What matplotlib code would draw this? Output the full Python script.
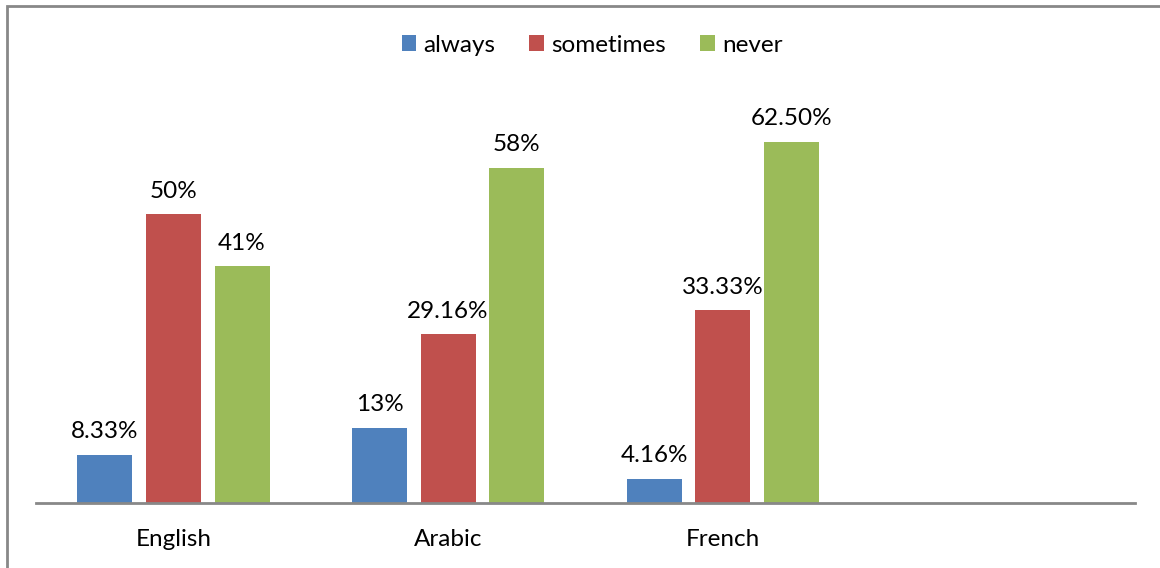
import matplotlib.pyplot as plt
from matplotlib.patches import Rectangle
import numpy as np

languages = ['English', 'Arabic', 'French', '']
always = [8.33, 13, 4.16]
sometimes = [50, 29.16, 33.33]
never = [41, 58, 62.5]
always_labels = ['8.33%', '13%', '4.16%']
sometimes_labels = ['50%', '29.16%', '33.33%']
never_labels = ['41%', '58%', '62.50%']

plt.rcParams['font.family'] = ['Lato', 'DejaVu Sans']
fs = 17.5

fig = plt.figure(figsize=(11.6, 5.68), dpi=100)
ax = fig.add_axes([36/1160, 1 - 503/568, 1099/1160, 404.6/568])

x = np.arange(len(always))
w = 0.2
series = [
    (always, always_labels, '#4F81BD', 'always', -0.25),
    (sometimes, sometimes_labels, '#C0504D', 'sometimes', 0.0),
    (never, never_labels, '#9BBB59', 'never', 0.25),
]
for vals, labs, col, name, off in series:
    bars = ax.bar(x + off, vals, w, color=col, label=name)
    for b, lab in zip(bars, labs):
        ax.annotate(lab, (b.get_x() + b.get_width()/2, b.get_height()),
                    xytext=(0, 9), textcoords='offset points',
                    ha='center', va='bottom', fontsize=fs)

ax.set_xlim(-0.5, 3.5)
ax.set_ylim(0, 70)
ax.set_xticks(np.arange(len(languages)))
ax.set_xticklabels(languages, fontsize=fs)
ax.tick_params(axis='x', length=0, pad=19)
ax.set_yticks([])
for s in ['top', 'right', 'left']:
    ax.spines[s].set_visible(False)
ax.spines['bottom'].set_color('#888888')
ax.spines['bottom'].set_linewidth(2)

fig.legend(loc='center', bbox_to_anchor=(592/1160, 1 - 45/568), ncol=3,
           frameon=False, fontsize=fs, handlelength=0.6, handleheight=0.6,
           handletextpad=0.3, columnspacing=1.4)

# chart border
fig.patches.append(Rectangle((7/1160, -0.1), 1.2, 1 - 6/568 + 0.1,
                             transform=fig.transFigure, fill=False,
                             edgecolor='#888888', linewidth=2))

fig.savefig('out.png', dpi=100)
